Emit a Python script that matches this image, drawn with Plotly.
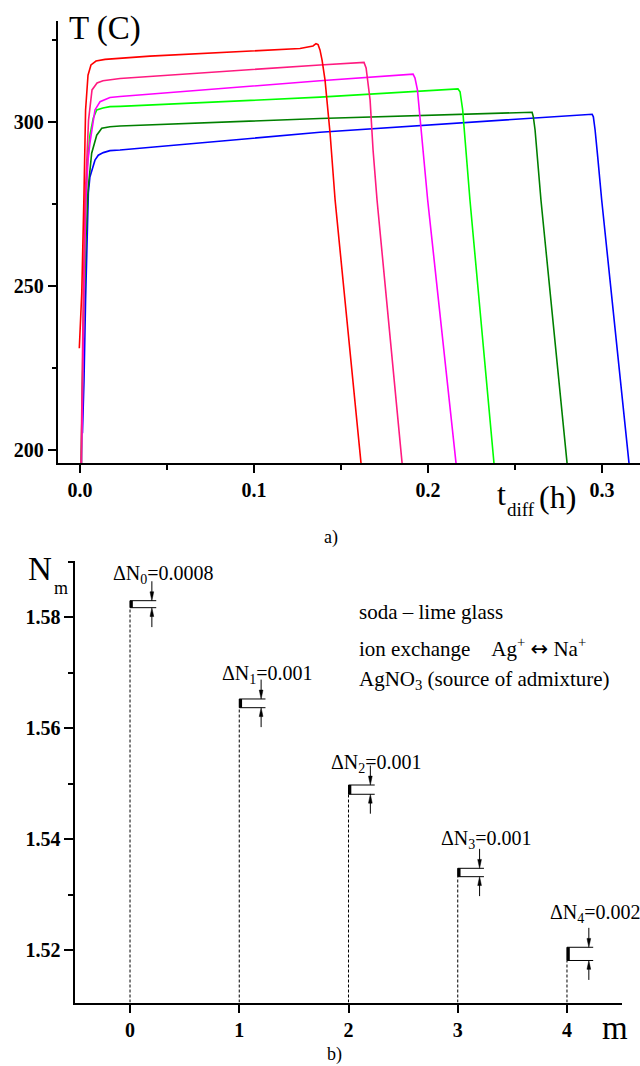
import plotly.graph_objects as go

# ---------------- data: panel a) ----------------
red_t = [-0.0004, 0.0010, 0.0023, 0.0032, 0.0046, 0.0063, 0.0092, 0.0144, 0.0402, 0.0977, 0.1264, 0.1339, 0.1356, 0.1368, 0.1379, 0.1391, 0.1408, 0.1437, 0.1466, 0.1615]
red_T = [231.1, 247.9, 278.4, 303.7, 314.3, 317.4, 318.6, 319.1, 320.1, 321.6, 322.4, 323.2, 323.9, 323.6, 322.0, 318.9, 312.8, 296.6, 276.2, 196.0]

pink_t = [0.0006, 0.0014, 0.0019, 0.0029, 0.0039, 0.0049, 0.0069, 0.0098, 0.0132, 0.0230, 0.1379, 0.1632, 0.1644, 0.1652, 0.1667, 0.1684, 0.1707, 0.1851]
pink_T = [196.0, 230.5, 247.9, 276.2, 288.4, 300.6, 309.8, 311.9, 312.6, 313.3, 317.4, 318.2, 316.5, 312.8, 306.7, 291.5, 276.2, 196.0]

magenta_t = [0.0009, 0.0017, 0.0026, 0.0034, 0.0046, 0.0057, 0.0086, 0.0115, 0.0172, 0.0230, 0.1379, 0.1914, 0.1925, 0.1939, 0.1954, 0.1977, 0.1998, 0.2161]
magenta_T = [196.0, 230.5, 257.9, 276.2, 288.4, 293.6, 303.7, 306.2, 307.5, 307.8, 312.6, 314.6, 313.4, 309.8, 301.5, 289.3, 276.2, 196.0]

lime_t = [0.0009, 0.0017, 0.0029, 0.0040, 0.0057, 0.0076, 0.0096, 0.0132, 0.0172, 0.0230, 0.1379, 0.2172, 0.2184, 0.2199, 0.2213, 0.2241, 0.2379]
lime_T = [196.0, 233.5, 264.0, 285.4, 296.0, 301.2, 303.7, 304.3, 304.7, 304.8, 307.6, 310.1, 309.2, 303.7, 294.5, 276.2, 196.0]

dgreen_t = [0.0006, 0.0020, 0.0034, 0.0046, 0.0067, 0.0096, 0.0125, 0.0172, 0.0230, 0.1379, 0.2598, 0.2605, 0.2615, 0.2628, 0.2649, 0.2799]
dgreen_T = [196.0, 236.6, 264.0, 279.3, 290.5, 296.0, 298.1, 298.6, 298.8, 301.1, 303.0, 301.6, 297.6, 289.4, 276.2, 196.0]

blue_t = [0.0014, 0.0023, 0.0032, 0.0040, 0.0048, 0.0057, 0.0086, 0.0105, 0.0134, 0.0172, 0.0230, 0.1379, 0.2943, 0.2950, 0.2960, 0.2975, 0.2998, 0.3155]
blue_T = [205.2, 221.3, 245.7, 264.0, 278.4, 283.3, 288.4, 289.9, 290.7, 291.3, 291.5, 296.9, 302.4, 301.6, 297.6, 289.4, 276.2, 196.0]

# ---------------- data: panel b) ----------------
m_vals = [0, 1, 2, 3, 4]
N_top = [1.58299, 1.56528, 1.54978, 1.53477, 1.52054]
N_bot = [1.58173, 1.56371, 1.54811, 1.53326, 1.51816]
dN_labels = ["ΔN<sub>0</sub>=0.0008", "ΔN<sub>1</sub>=0.001", "ΔN<sub>2</sub>=0.001",
             "ΔN<sub>3</sub>=0.001", "ΔN<sub>4</sub>=0.002"]

# ---------------- style / layout constants ----------------
W, H = 640, 1066
SERIF = "Liberation Serif, Times New Roman, serif"
XR_A = [-0.01282, 0.3218]
YR_A = [196.04, 330.8]
XR_B = [-0.5, 4.5]
YR_B = [1.51059, 1.59014]
rect_w = 0.24
arrow_dx = 0.20
arrow_len = 0.0035
head_len = 0.0016
head_hw = 0.017
label_dx = -0.175
label_dy = [26, 24, 22, 29, 34]

def px(x):
    return x / W

def py(y):
    return 1 - y / H

fig = go.Figure()

curves = [
    (blue_t, blue_T, "#0000ff"),
    (dgreen_t, dgreen_T, "#008000"),
    (lime_t, lime_T, "#00ff00"),
    (magenta_t, magenta_T, "#ff00ff"),
    (pink_t, pink_T, "#ff1a80"),
    (red_t, red_T, "#ff0000"),
]
for t, T, c in curves:
    fig.add_trace(go.Scatter(x=t, y=T, mode="lines", line=dict(color=c, width=1.6),
                             xaxis="x", yaxis="y", showlegend=False, hoverinfo="skip"))

def b_line(xs, ys, width=1, dash=None):
    fig.add_trace(go.Scatter(x=xs, y=ys, mode="lines",
                             line=dict(color="black", width=width, dash=dash),
                             xaxis="x2", yaxis="y2", showlegend=False, hoverinfo="skip"))

def b_head(xc, tip, sign):
    # filled narrow triangular arrowhead; sign=+1 -> pointing down onto tip
    fig.add_trace(go.Scatter(x=[xc - head_hw, xc + head_hw, xc, xc - head_hw],
                             y=[tip + sign * head_len, tip + sign * head_len, tip, tip + sign * head_len],
                             mode="lines", fill="toself", fillcolor="black",
                             line=dict(color="black", width=0.5),
                             xaxis="x2", yaxis="y2", showlegend=False, hoverinfo="skip"))

for m, nt, nb in zip(m_vals, N_top, N_bot):
    b_line([m, m], [YR_B[0], nb], 1, "3px,2px")
    b_line([m + rect_w, m, m, m + rect_w], [nt, nt, nb, nb], 1)
    b_line([m + 0.012, m + 0.012], [nb, nt], 3)
    xa = m + arrow_dx
    b_line([xa, xa], [nt + arrow_len, nt + head_len * 0.5], 1)
    b_head(xa, nt, +1)
    b_line([xa, xa], [nb - arrow_len, nb - head_len * 0.5], 1)
    b_head(xa, nb, -1)

annotations = []
for i, (m, nt) in enumerate(zip(m_vals, N_top)):
    annotations.append(dict(x=m + label_dx, y=nt, xref="x2", yref="y2", text=dN_labels[i],
                            showarrow=False, xanchor="left", yanchor="middle", yshift=label_dy[i],
                            font=dict(family=SERIF, size=20, color="black")))

def txt(x, y, s, size, xanchor="center"):
    annotations.append(dict(x=px(x), y=py(y), xref="paper", yref="paper", text=s,
                            showarrow=False, xanchor=xanchor, yanchor="middle",
                            font=dict(family=SERIF, size=size, color="black")))

txt(105, 29, "T (C)", 33)
txt(501, 494, "t", 32)
txt(505, 510, "diff", 19, "left")
txt(537, 497, "(h)", 32, "left")
txt(331, 537, "a)", 18)
txt(40, 569, "N", 33)
txt(61, 588, "m", 18)
txt(615, 1028, "m", 33)
txt(334, 1054, "b)", 18)
txt(357, 612, "soda – lime glass", 21, "left")
txt(357, 647, "ion exchange\u00a0\u00a0\u00a0\u00a0Ag<sup>+</sup> <span style=\"font-family:DejaVu Sans\">↔</span> Na<sup>+</sup>", 21, "left")
txt(357, 680, "AgNO<sub>3</sub> (source of admixture)", 21, "left")

tickfont = dict(family=SERIF, size=20, color="black", weight="bold")
axis_common = dict(showline=True, linecolor="black", linewidth=2, ticks="outside",
                   tickcolor="black", tickwidth=1.5, showgrid=False, zeroline=False,
                   tickfont=tickfont, fixedrange=True)

fig.update_layout(
    width=W, height=H, margin=dict(l=0, r=0, t=0, b=0),
    paper_bgcolor="white", plot_bgcolor="white", showlegend=False,
    font=dict(family=SERIF, color="black"),
    xaxis=dict(domain=[px(57.7), 1.0], range=XR_A, anchor="y", dtick=0.1, tick0=0,
               tickformat=".1f", ticklen=8,
               minor=dict(ticks="outside", dtick=0.05, tick0=0, ticklen=5, tickcolor="black", tickwidth=1.5),
               **axis_common),
    yaxis=dict(domain=[py(463.3), py(21)], range=YR_A, anchor="x", dtick=50, tick0=0, ticklen=8,
               minor=dict(ticks="outside", dtick=25, tick0=0, ticklen=4, tickcolor="black", tickwidth=1.5),
               **axis_common),
    xaxis2=dict(domain=[px(75.4), px(621.6)], range=XR_B, anchor="y2", dtick=1, tick0=0, ticklen=8,
                **axis_common),
    yaxis2=dict(domain=[py(1002.5), py(561)], range=YR_B, anchor="x2", dtick=0.02, tick0=0,
                tickformat=".2f", ticklen=9,
                minor=dict(ticks="outside", dtick=0.01, tick0=0, ticklen=5, tickcolor="black", tickwidth=1.5),
                **axis_common),
    annotations=annotations,
)

fig.write_html("out.html", config={"displayModeBar": False},
               post_script="document.body.style.margin='0px';document.body.style.overflow='hidden';")
